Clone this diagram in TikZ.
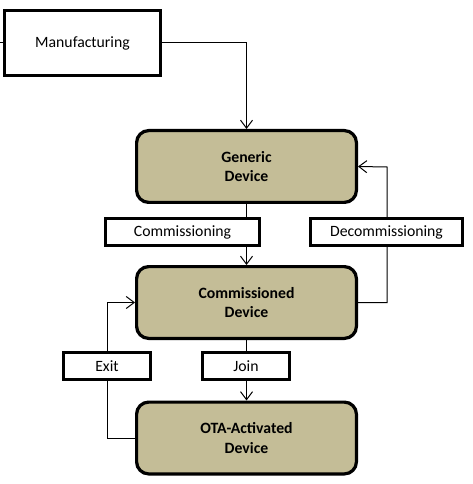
\documentclass[tikz,border=0pt]{standalone}
\usepackage{fontspec}
\setmainfont{Carlito}
\usetikzlibrary{arrows.meta}
\definecolor{tan}{HTML}{C4BD97}
\begin{document}
\begin{tikzpicture}[x=0.75pt,y=-0.75pt,
  every node/.style={font=\fontsize{11.8}{14.5}\selectfont, inner sep=0pt},
  statebox/.style={draw=black, line width=2.4pt, fill=tan, rounded corners=9pt,
    minimum width=223*0.75pt-2.4pt, minimum height=75*0.75pt-2.4pt, align=center, font=\fontsize{11.8}{14.5}\selectfont\bfseries},
  plainbox/.style={draw=black, line width=2.4pt, fill=white, minimum height=30*0.75pt-2.4pt},
  conn/.style={draw=black, line width=0.75pt, -{Straight Barb[length=6pt,width=9pt,line width=0.75pt]}},
  plainline/.style={draw=black, line width=0.75pt}]
\useasboundingbox (0,0) rectangle (473,484);
% nodes
\node[plainbox, minimum width=159*0.75pt-2.4pt, minimum height=68*0.75pt-2.4pt] (manu) at (82.5,43) {\raisebox{-1pt}{Manufacturing}};
\node[statebox] (generic) at (246.5,166.5) {Generic\\Device};
\node[statebox] (comm) at (246.5,302.5) {Commissioned\\Device};
\node[statebox] (ota) at (246.5,438) {OTA-Activated\\Device};
\coordinate (stub) at (0,43);
\coordinate (m1) at (246.5,43);
\coordinate (d1) at (387,302.5);
\coordinate (d2) at (387,167);
\coordinate (e1) at (107,438);
\coordinate (e2) at (107,302.5);
% connectors
\draw[plainline] (stub) -- (manu.west);
\draw[conn] (manu.east) -- (m1) -- (generic.north);
\draw[conn] (generic.south) -- (comm.north);
\draw[conn] (comm.south) -- (ota.north);
\draw[conn] (comm.east) -- (d1) -- (d2) -- (generic.east);
\draw[conn] (ota.west) -- (e1) -- (e2) -- (comm.west);
% labels
\node[plainbox, minimum width=157*0.75pt-2.4pt] (lcomm) at (182.5,232) {\raisebox{-1.5pt}{Commissioning}};
\node[plainbox, minimum width=155*0.75pt-2.4pt] (ldecomm) at (386.5,232) {\raisebox{-1.5pt}{Decommissioning}};
\node[plainbox, minimum width=90*0.75pt-2.4pt] (lexit) at (107,366) {\raisebox{-1.5pt}{Exit}};
\node[plainbox, minimum width=90*0.75pt-2.4pt] (ljoin) at (246,366) {\raisebox{-1.5pt}{Join}};
\end{tikzpicture}
\end{document}
